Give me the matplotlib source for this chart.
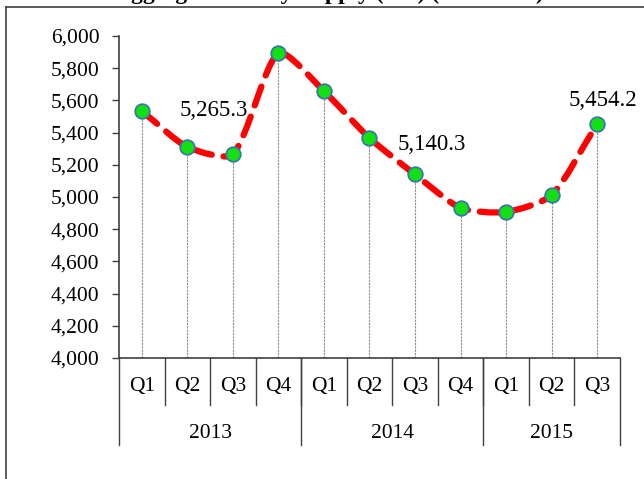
import matplotlib.pyplot as plt
import numpy as np
from matplotlib.path import Path
from matplotlib.patches import PathPatch
from matplotlib.transforms import blended_transform_factory

# data
quarters = ["Q1", "Q2", "Q3", "Q4", "Q1", "Q2", "Q3", "Q4", "Q1", "Q2", "Q3"]
years = ["2013", "2014", "2015"]
year_sizes = [4, 4, 3]
money_supply = [5534, 5311, 5265.3, 5894, 5658, 5366, 5140.3, 4932, 4907, 5012, 5454.2]
labelled = {2: (-14, 24), 6: (12, 14), 10: (4, 9)}

plt.rcParams['font.family'] = ['Liberation Serif', 'DejaVu Serif']
FS = 15.5

fig = plt.figure(figsize=(6.44, 4.79), dpi=100)
ax = fig.add_axes([0.1848, 0.2526, 0.7779, 0.6722])
ax.set_xlim(-0.5, len(money_supply) - 0.5)
ax.set_ylim(4000, 6000)

x = np.arange(len(money_supply), dtype=float)
y = np.array(money_supply, dtype=float)

# smoothed line: bezier segments, handles weighted by on-screen segment lengths
TENSION = 0.7
pix = ax.transData.transform(np.column_stack([x, y]))
pts = np.column_stack([x, y])
n = len(pts)
seg = np.hypot(*np.diff(pix, axis=0).T)
verts = [tuple(pts[0])]
codes = [Path.MOVETO]
for i in range(n - 1):
    p0, p1, p2, p3 = pts[max(i - 1, 0)], pts[i], pts[i + 1], pts[min(i + 2, n - 1)]
    d01 = seg[i - 1] if i > 0 else seg[i]
    d12 = seg[i]
    d23 = seg[i + 1] if i + 2 < n else seg[i]
    if i > 0:
        c1 = p1 + (p2 - p0) * d12 / (d01 + d12) / 3 * TENSION
    else:
        c1 = p1 + (p2 - p1) / 3
    if i + 2 < n:
        c2 = p2 - (p3 - p1) * d12 / (d12 + d23) / 3 * TENSION
    else:
        c2 = p2 - (p2 - p1) / 3
    verts += [tuple(c1), tuple(c2), tuple(p2)]
    codes += [Path.CURVE4] * 3
curve = PathPatch(Path(verts, codes), facecolor='none', edgecolor='#ff0000',
                  lw=4.5, linestyle=(0, (3.2, 1.9)), capstyle='round', zorder=3)
ax.add_patch(curve)

# drop lines
ax.vlines(x, 4000, y, colors='#8c8c8c', linestyles=(0, (2, 1)), lw=0.8, zorder=2)

ax.plot(x, y, linestyle='none', marker='o', markersize=10.5,
        markerfacecolor='#12e012', markeredgecolor='#3a78a8', markeredgewidth=1.3, zorder=4)

for i, (dx, dy) in labelled.items():
    ax.annotate(f"{money_supply[i]:,.1f}", (x[i], y[i]), xytext=(dx, dy),
                textcoords='offset points', ha='center', va='bottom', fontsize=FS + 1, zorder=5)

ax.set_yticks(np.arange(4000, 6001, 200))
ax.set_yticklabels([f"{v:,}" for v in range(4000, 6001, 200)])
ax.tick_params(axis='y', labelsize=FS, length=5, width=1, color='#404040', pad=9)
ax.set_xticks([])
for s in ['top', 'right']:
    ax.spines[s].set_visible(False)
for s in ['left', 'bottom']:
    ax.spines[s].set_color('#404040')
    ax.spines[s].set_linewidth(1.2)

# two-level category axis
tr = blended_transform_factory(ax.transData, ax.transAxes)
for i, q in enumerate(quarters):
    ax.text(i, -0.088, q, transform=tr, ha='center', va='center', fontsize=FS)
    if i > 0:
        ax.plot([i - 0.5, i - 0.5], [0, -0.145], transform=tr, color='#404040', lw=1, clip_on=False)
start = 0
for yr, cnt in zip(years, year_sizes):
    ax.text(start + cnt / 2 - 0.5, -0.233, yr, transform=tr, ha='center', va='center', fontsize=FS)
    ax.plot([start - 0.5, start - 0.5], [0, -0.27], transform=tr, color='#404040', lw=1, clip_on=False)
    start += cnt
ax.plot([start - 0.5, start - 0.5], [0, -0.27], transform=tr, color='#404040', lw=1, clip_on=False)

# outer frame and cut-off title
fig.add_artist(plt.Line2D([6 / 644, 6 / 644], [0, 1 - 7 / 479], color='#404040', lw=1.2))
fig.add_artist(plt.Line2D([6 / 644, 1], [1 - 7 / 479, 1 - 7 / 479], color='#404040', lw=1.2))
fig.text(0.51, 1 + 1 / 479, "Aggregate Money Supply (M2) (N' Billion)", ha='center', va='baseline',
         fontsize=17, fontweight='bold')

fig.savefig("out.png", dpi=100)
